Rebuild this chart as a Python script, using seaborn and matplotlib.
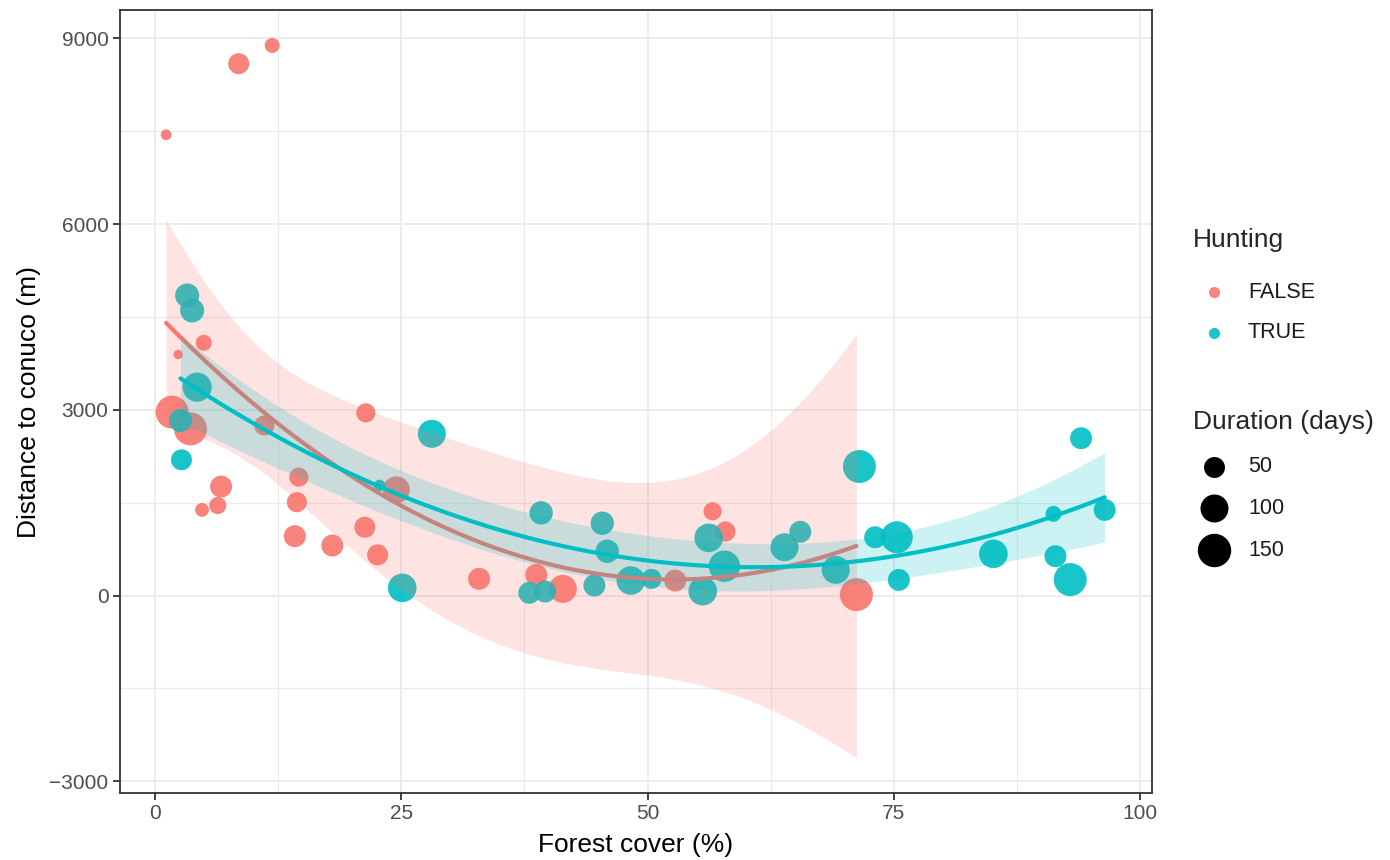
import numpy as np
import pandas as pd
import matplotlib
matplotlib.use("Agg")
import matplotlib.pyplot as plt
from matplotlib.lines import Line2D
from matplotlib.ticker import MultipleLocator
import seaborn as sns

# points: forest cover (%), distance (m), duration (days)
false_cover = [11.9, 8.5, 1.13, 4.95, 2.35, 1.74, 21.4, 3.6, 11.1, 6.71, 6.37, 4.78, 14.6,
               14.4, 14.2, 18.0, 21.3, 22.6, 24.5, 32.9, 38.7, 41.4, 52.8, 56.6, 57.9, 71.2]
false_dist = [8888, 8592, 7445, 4083, 3895, 2963, 2952, 2693, 2747, 1761, 1454, 1384, 1912,
              1508, 959, 808, 1104, 658, 1708, 270, 334, 108, 242, 1362, 1034, 16]
false_days = [21, 50, 8, 25, 5, 146, 40, 146, 45, 56, 30, 17, 40,
              45, 56, 56, 50, 50, 92, 56, 56, 100, 56, 35, 45, 146]

true_cover = [3.27, 3.77, 4.28, 2.59, 2.69, 28.1, 22.8, 25.1, 39.2, 45.4, 45.9, 38.0, 39.6,
              44.6, 48.3, 50.4, 55.6, 56.2, 57.8, 63.9, 65.5, 71.5, 69.1, 73.1, 75.3, 75.5,
              85.1, 91.2, 91.4, 92.9, 94.0, 96.4]
true_dist = [4848, 4606, 3366, 2828, 2193, 2613, 1778, 124, 1336, 1169, 716, 44, 65,
             162, 242, 269, 70, 932, 474, 781, 1030, 2085, 415, 942, 942, 253,
             674, 1320, 636, 258, 2542, 1384]
true_days = [70, 70, 110, 62, 50, 100, 10, 105, 65, 65, 65, 56, 56,
             56, 105, 45, 105, 105, 130, 100, 56, 146, 100, 56, 135, 56,
             105, 25, 56, 146, 56, 56]

legend_days = [50, 100, 150]

df = pd.DataFrame({
    "cover": false_cover + true_cover,
    "dist": false_dist + true_dist,
    "days": false_days + true_days,
    "hunting": ["FALSE"] * len(false_cover) + ["TRUE"] * len(true_cover),
})

colors = {"FALSE": "#F8766D", "TRUE": "#00BFC4"}


def size_for(v):
    # ggplot-like area scale: diameter grows with sqrt(value)
    d_px = 4 + 2.4 * np.sqrt(v)
    return (d_px * 0.72) ** 2


def t975(df_):
    # Cornish-Fisher expansion of the t quantile
    z = 1.959964
    return (z + (z**3 + z) / (4 * df_) + (5 * z**5 + 16 * z**3 + 3 * z) / (96 * df_**2)
            + (3 * z**7 + 19 * z**5 + 17 * z**3 - 15 * z) / (384 * df_**3))


def quad_fit(x, y, n=200):
    x = np.asarray(x, float)
    y = np.asarray(y, float)
    X = np.column_stack([np.ones_like(x), x, x**2])
    beta, *_ = np.linalg.lstsq(X, y, rcond=None)
    resid = y - X @ beta
    dof = len(x) - 3
    s2 = resid @ resid / dof
    cov = np.linalg.inv(X.T @ X) * s2
    xs = np.linspace(x.min(), x.max(), n)
    Xs = np.column_stack([np.ones_like(xs), xs, xs**2])
    fit = Xs @ beta
    se = np.sqrt(np.einsum("ij,jk,ik->i", Xs, cov, Xs))
    t = t975(dof)
    return xs, fit, fit - t * se, fit + t * se


sns.set_theme(style="white")
plt.rcParams["font.family"] = ["Liberation Sans", "DejaVu Sans"]

W, H = 1390, 860
fig = plt.figure(figsize=(W / 100, H / 100), dpi=100)
ax = fig.add_axes([119.5 / W, 1 - 793 / H, (1152 - 119.5) / W, (793 - 10) / H])

sizes = {v: size_for(v) for v in sorted(df["days"].unique())}
sns.scatterplot(data=df, x="cover", y="dist", hue="hunting", size="days",
                sizes=sizes, palette=colors, alpha=0.9, edgecolor="none",
                legend=False, ax=ax, zorder=3)

for grp, cov, dist in [("FALSE", false_cover, false_dist), ("TRUE", true_cover, true_dist)]:
    xs, fit, lo, hi = quad_fit(cov, dist)
    ax.fill_between(xs, lo, hi, color=colors[grp], alpha=0.2, lw=0, zorder=4)
    ax.plot(xs, fit, color=colors[grp], lw=3, zorder=4)

ax.set_xlim(-3.6, 101.2)
ax.set_ylim(-3190, 9460)
ax.xaxis.set_major_locator(MultipleLocator(25))
ax.xaxis.set_minor_locator(MultipleLocator(12.5))
ax.yaxis.set_major_locator(MultipleLocator(3000))
ax.yaxis.set_minor_locator(MultipleLocator(1500))
ax.grid(which="major", color="#EBEBEB", lw=1.3, zorder=0)
ax.grid(which="minor", color="#EBEBEB", lw=0.8, zorder=0)
ax.set_axisbelow(True)
ax.set_yticks([-3000, 0, 3000, 6000, 9000])
ax.set_yticklabels(["\u22123000", "0", "3000", "6000", "9000"])

for sp in ax.spines.values():
    sp.set_color("#333333")
    sp.set_linewidth(1.3)
ax.tick_params(which="major", direction="out", length=5, width=1.3, color="#333333",
               labelsize=15, labelcolor="#4D4D4D", left=True, bottom=True, pad=3)
ax.tick_params(which="minor", length=0)

ax.set_xlabel("Forest cover (%)", fontsize=19, color="black", labelpad=7)
ax.set_ylabel("Distance to conuco (m)", fontsize=19, color="black", labelpad=6)


# legends, placed in pixel coordinates like the reference
def fx(px):
    return px / W


def fy(py):
    return 1 - py / H


fig.text(fx(1193), fy(240), "Hunting", fontsize=19, va="center", ha="left")
for lab, py in zip(["FALSE", "TRUE"], [292, 333]):
    fig.add_artist(Line2D([fx(1214)], [fy(py)], transform=fig.transFigure, marker="o",
                          ls="", color=colors[lab], alpha=0.9, markersize=8,
                          markeredgewidth=0))
    fig.text(fx(1248), fy(py), lab, fontsize=15.5, va="center", ha="left", color="#1A1A1A")

fig.text(fx(1193), fy(422), "Duration (days)", fontsize=19, va="center", ha="left")
for v, py in zip(legend_days, [467, 508, 550]):
    fig.add_artist(Line2D([fx(1214)], [fy(py)], transform=fig.transFigure, marker="o",
                          ls="", color="black", markersize=np.sqrt(size_for(v)),
                          markeredgewidth=0))
    fig.text(fx(1248), fy(py), str(v), fontsize=15.5, va="center", ha="left", color="#1A1A1A")

fig.savefig("out.png", dpi=100, facecolor="white")
